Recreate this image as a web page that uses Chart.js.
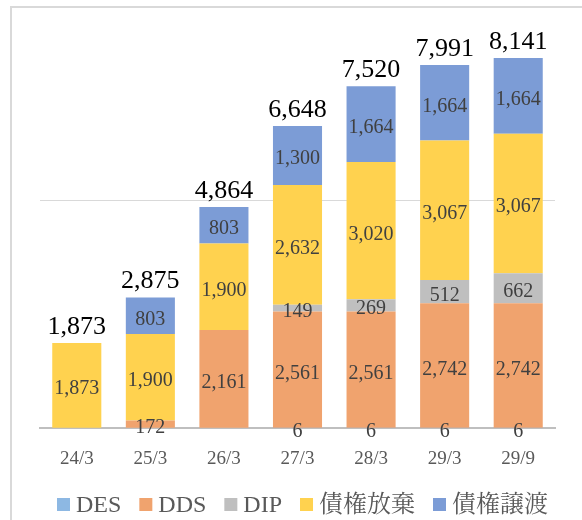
<!DOCTYPE html>
<html><head><meta charset="utf-8">
<script src="https://cdn.jsdelivr.net/npm/chart.js@4.4.1/dist/chart.umd.min.js"></script>
<style>
html,body{margin:0;padding:0;background:#fff;}
#wrap{position:relative;width:582px;height:520px;overflow:hidden;background:#fff;}
#frame{position:absolute;left:10px;top:6px;width:620px;height:620px;border:2px solid #d9d9d9;box-sizing:border-box;}
canvas{position:absolute;left:0;top:0;}
</style></head><body>
<div id="wrap"><div id="frame"></div><canvas id="c" width="582" height="520"></canvas></div>
<script>
const categories = ['24/3','25/3','26/3','27/3','28/3','29/3','29/9'];
const seriesNames = ['DES','DDS','DIP','債権放棄','債権譲渡'];
const desValues   = [null, null, null, 6, 6, 6, 6];
const ddsValues   = [null, 172, 2161, 2561, 2561, 2742, 2742];
const dipValues   = [null, null, null, 149, 269, 512, 662];
const houkiValues = [1873, 1900, 1900, 2632, 3020, 3067, 3067];
const jotoValues  = [null, 803, 803, 1300, 1664, 1664, 1664];
const seriesColors = ['#8DB8E3','#F0A36E','#BFBFBF','#FFD24F','#7C9CD6'];

const allSeries = [desValues, ddsValues, dipValues, houkiValues, jotoValues];
const SERIF = "'Liberation Serif', 'Noto Serif CJK JP', serif";
const fmt = v => v.toLocaleString('en-US');

const labelPlugin = {
  id: 'valueLabels',
  afterDatasetsDraw(chart) {
    const ctx = chart.ctx;
    ctx.save();
    ctx.textAlign = 'center';
    ctx.textBaseline = 'alphabetic';
    ctx.font = '20px ' + SERIF;
    ctx.fillStyle = '#404040';
    const tops = [];
    const sums = [];
    chart.data.datasets.forEach((ds, i) => {
      const meta = chart.getDatasetMeta(i);
      meta.data.forEach((el, j) => {
        const v = ds.data[j];
        if (v == null) return;
        sums[j] = (sums[j] || 0) + v;
        tops[j] = tops[j] == null ? el.y : Math.min(tops[j], el.y);
        const cy = (el.y + el.base) / 2;
        ctx.fillText(fmt(v), el.x, cy + 9);
      });
    });
    ctx.font = '26px ' + SERIF;
    ctx.fillStyle = '#000000';
    const meta0 = chart.getDatasetMeta(3);
    meta0.data.forEach((el, j) => {
      if (sums[j] == null) return;
      ctx.fillText(fmt(sums[j]), el.x, tops[j] - 9);
    });
    ctx.restore();
  },
  afterDraw(chart) {
    const ctx = chart.ctx;
    ctx.save();
    ctx.font = '24px ' + SERIF;
    ctx.textBaseline = 'alphabetic';
    ctx.textAlign = 'left';
    const box = 13, textOff = 19;
    const startX = 57, endX = 548, baseY = 512;
    const widths = chart.data.datasets.map(ds => ctx.measureText(ds.label).width);
    const itemsW = widths.reduce((a, w) => a + textOff + w, 0);
    const gap = (endX - startX - itemsW) / (widths.length - 1);
    let x = startX;
    chart.data.datasets.forEach((ds, i) => {
      ctx.fillStyle = ds.backgroundColor;
      ctx.fillRect(x, baseY - 14, box, box);
      ctx.fillStyle = '#595959';
      ctx.fillText(ds.label, x + textOff, baseY);
      x += textOff + widths[i] + gap;
    });
    ctx.restore();
  }
};

function draw() {
  new Chart(document.getElementById('c'), {
    type: 'bar',
    data: {
      labels: categories,
      datasets: seriesNames.map((name, i) => ({
        label: name,
        data: allSeries[i],
        backgroundColor: seriesColors[i],
        borderWidth: 0,
        categoryPercentage: 1.0,
        barPercentage: 0.667
      }))
    },
    options: {
      responsive: false,
      animation: false,
      devicePixelRatio: 1,
      font: { family: SERIF },
      layout: { padding: { left: 40, right: 27, top: 19, bottom: 31 } },
      plugins: { legend: { display: false }, tooltip: { enabled: false } },
      scales: {
        x: {
          stacked: true,
          grid: { display: false, drawTicks: false },
          border: { display: true, color: '#BFBFBF', width: 2 },
          ticks: { color: '#595959', font: { family: SERIF, size: 19 }, padding: 19 }
        },
        y: {
          stacked: true,
          min: 0,
          max: 9000,
          afterFit: s => { s.width = 0; },
          afterBuildTicks: s => { s.ticks = [{ value: 0 }, { value: 5000 }]; },
          ticks: { display: false },
          border: { display: false },
          grid: {
            drawTicks: false,
            color: c => (c.tick && c.tick.value === 5000) ? '#D9D9D9' : 'rgba(0,0,0,0)',
            lineWidth: 1
          }
        }
      }
    },
    plugins: [labelPlugin]
  });
}

Promise.all([
  document.fonts.load("20px 'Liberation Serif'", '0123456789,/DESIP'),
  document.fonts.load("20px 'Noto Serif CJK JP'", '債権放棄譲渡')
]).then(draw, draw);
</script>
</body></html>
